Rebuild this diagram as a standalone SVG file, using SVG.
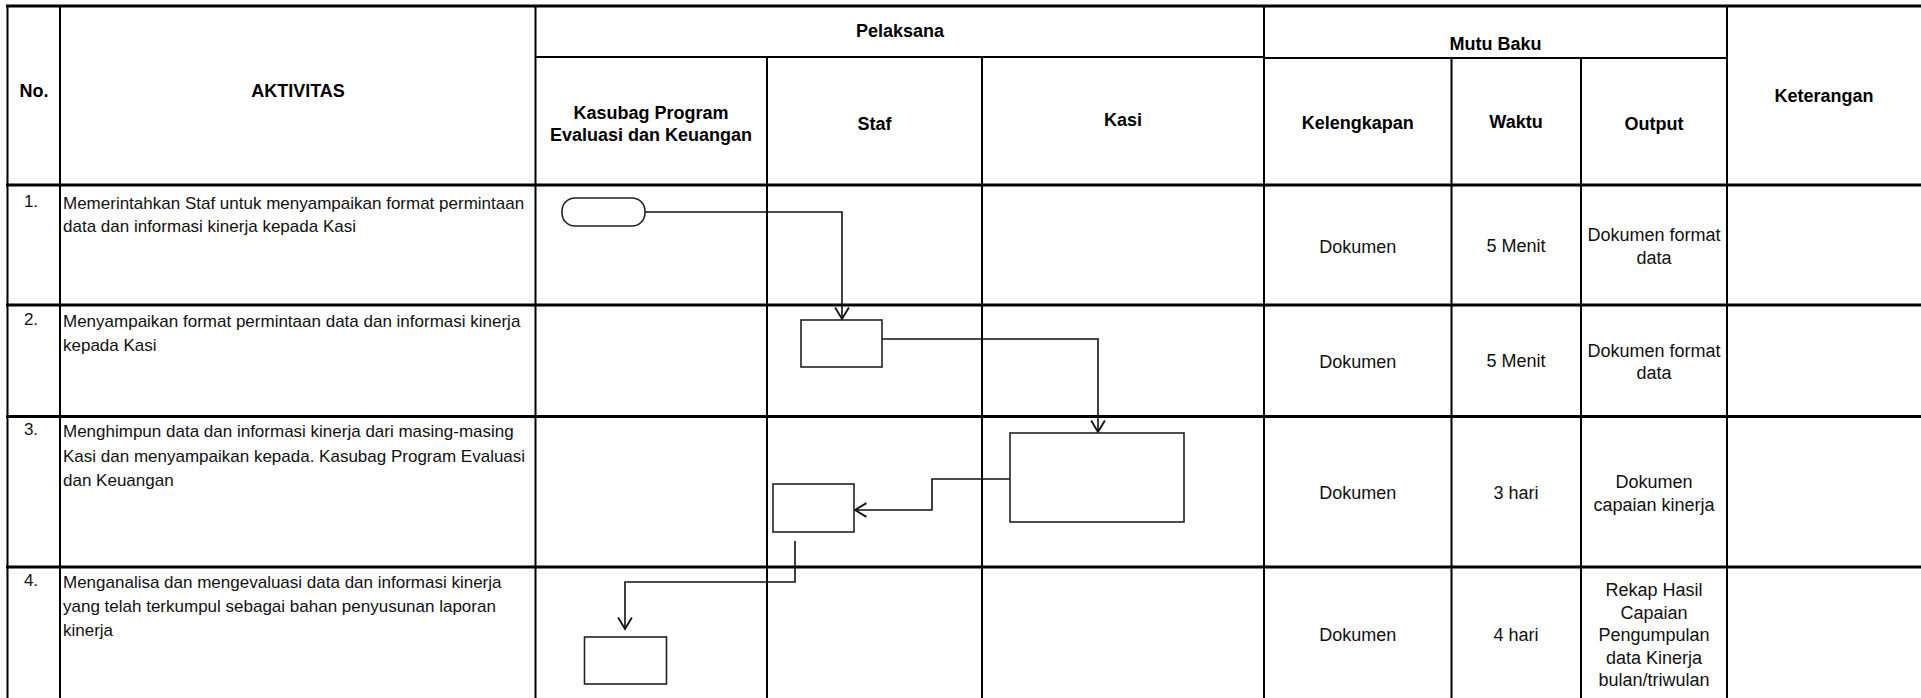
<svg xmlns="http://www.w3.org/2000/svg" width="1921" height="698" viewBox="0 0 1921 698">
<style>
.bg{fill:#fff}
.grid{stroke:#000;fill:none}
.thick{stroke-width:3}
.mid{stroke-width:2}
.hd{font-family:"Liberation Sans",Arial,sans-serif;font-weight:bold;font-size:18px;fill:#000;text-anchor:middle}
.tx{font-family:"Liberation Sans",Arial,sans-serif;font-size:17px;fill:#111}
.cx{font-family:"Liberation Sans",Arial,sans-serif;font-size:18px;fill:#111;text-anchor:middle}
.nm{font-family:"Liberation Sans",Arial,sans-serif;font-size:17px;fill:#111;text-anchor:middle}
.shape{fill:#fff;stroke:#222;stroke-width:1.6}
.conn{fill:none;stroke:#111;stroke-width:1.6}
</style>
<defs>
<marker id="arr" markerUnits="userSpaceOnUse" markerWidth="16" markerHeight="16" refX="12" refY="7" orient="auto" viewBox="0 0 14 14">
<path d="M2,1 L12,7 L2,13" fill="none" stroke="#111" stroke-width="1.6"/>
</marker>
</defs>
<rect class="bg" x="0" y="0" width="1921" height="698"/>

<g id="table">
<g class="grid thick">
<line x1="6" y1="6" x2="1921" y2="6"/>
<line x1="6" y1="185" x2="1921" y2="185"/>
<line x1="6" y1="305" x2="1921" y2="305"/>
<line x1="6" y1="416.5" x2="1921" y2="416.5"/>
<line x1="6" y1="567" x2="1921" y2="567"/>
</g>
<g class="grid mid">
<line x1="535.5" y1="57" x2="1264" y2="57"/>
<line x1="1264" y1="58" x2="1727" y2="58"/>
<line x1="7.5" y1="6" x2="7.5" y2="698"/>
<line x1="60" y1="6" x2="60" y2="698"/>
<line x1="535.5" y1="6" x2="535.5" y2="698"/>
<line x1="767" y1="57" x2="767" y2="698"/>
<line x1="982" y1="57" x2="982" y2="698"/>
<line x1="1264" y1="6" x2="1264" y2="698"/>
<line x1="1451.5" y1="58" x2="1451.5" y2="698"/>
<line x1="1581" y1="58" x2="1581" y2="698"/>
<line x1="1727" y1="6" x2="1727" y2="698"/>
</g>
<g id="headers">
<text class="hd" x="34" y="97">No.</text>
<text class="hd" x="298" y="97">AKTIVITAS</text>
<text class="hd" x="900" y="37">Pelaksana</text>
<text class="hd" x="651" y="118.5">Kasubag Program</text>
<text class="hd" x="651" y="141">Evaluasi dan Keuangan</text>
<text class="hd" x="874.5" y="130">Staf</text>
<text class="hd" x="1123" y="126">Kasi</text>
<text class="hd" x="1495.5" y="50">Mutu Baku</text>
<text class="hd" x="1357.7" y="129">Kelengkapan</text>
<text class="hd" x="1516" y="128">Waktu</text>
<text class="hd" x="1654" y="130">Output</text>
<text class="hd" x="1824" y="102">Keterangan</text>
</g>
<g id="row1">
<text class="nm" x="31" y="207">1.</text>
<text class="tx" x="63" y="209">Memerintahkan Staf untuk menyampaikan format permintaan</text>
<text class="tx" x="63" y="232">data dan informasi kinerja kepada Kasi</text>
<text class="cx" x="1357.7" y="252.5">Dokumen</text>
<text class="cx" x="1516" y="252">5 Menit</text>
<text class="cx" x="1654" y="241">Dokumen format</text>
<text class="cx" x="1654" y="263.5">data</text>
</g>
<g id="row2">
<text class="nm" x="31" y="325">2.</text>
<text class="tx" x="63" y="327">Menyampaikan format permintaan data dan informasi kinerja</text>
<text class="tx" x="63" y="351">kepada Kasi</text>
<text class="cx" x="1357.7" y="367.5">Dokumen</text>
<text class="cx" x="1516" y="367">5 Menit</text>
<text class="cx" x="1654" y="356.5">Dokumen format</text>
<text class="cx" x="1654" y="379">data</text>
</g>
<g id="row3">
<text class="nm" x="31" y="435">3.</text>
<text class="tx" x="63" y="437">Menghimpun data dan informasi kinerja dari masing-masing</text>
<text class="tx" x="63" y="461.5">Kasi dan menyampaikan kepada. Kasubag Program Evaluasi</text>
<text class="tx" x="63" y="486">dan Keuangan</text>
<text class="cx" x="1357.7" y="499">Dokumen</text>
<text class="cx" x="1516" y="498.5">3 hari</text>
<text class="cx" x="1654" y="488">Dokumen</text>
<text class="cx" x="1654" y="510.5">capaian kinerja</text>
</g>
<g id="row4">
<text class="nm" x="31" y="586">4.</text>
<text class="tx" x="63" y="588">Menganalisa dan mengevaluasi data dan informasi kinerja</text>
<text class="tx" x="63" y="612">yang telah terkumpul sebagai bahan penyusunan laporan</text>
<text class="tx" x="63" y="636">kinerja</text>
<text class="cx" x="1357.7" y="641">Dokumen</text>
<text class="cx" x="1516" y="641">4 hari</text>
<text class="cx" x="1654" y="596">Rekap Hasil</text>
<text class="cx" x="1654" y="618.5">Capaian</text>
<text class="cx" x="1654" y="641">Pengumpulan</text>
<text class="cx" x="1654" y="663.5">data Kinerja</text>
<text class="cx" x="1654" y="686">bulan/triwulan</text>
</g>
</g>

<g id="connectors">
<path class="conn" d="M645,212 H842 V319" marker-end="url(#arr)"/>
<path class="conn" d="M882,339 H1098 V432" marker-end="url(#arr)"/>
<path class="conn" d="M1010,479 H932 V510 H855" marker-end="url(#arr)"/>
<path class="conn" d="M795,541 V582 H625 V629" marker-end="url(#arr)"/>
</g>

<g id="n1-start"><rect class="shape" x="562" y="198" width="83" height="28" rx="13" ry="13"/></g>
<g id="n2-staf"><rect class="shape" x="801" y="320" width="81" height="47"/></g>
<g id="n3-kasi"><rect class="shape" x="1010" y="433" width="174" height="89"/></g>
<g id="n4-staf"><rect class="shape" x="773" y="484" width="81" height="48"/></g>
<g id="n5-kasubag"><rect class="shape" x="584.5" y="637" width="82" height="47"/></g>
</svg>
